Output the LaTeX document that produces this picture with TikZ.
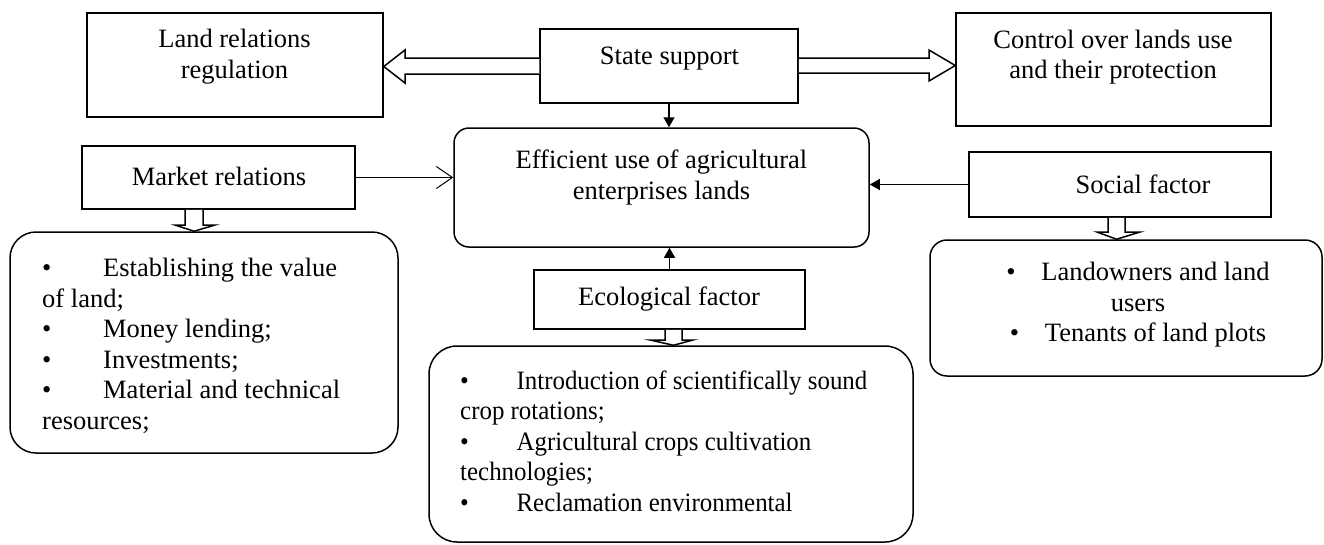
\documentclass[tikz,border=0pt]{standalone}
\usepackage{fontspec}
\setmainfont{Liberation Serif}
\usetikzlibrary{arrows.meta,calc}
\begin{document}
\begin{tikzpicture}[x=1pt,y=-1pt]
\tikzset{
 every node/.style={font=\fontsize{26.5pt}{30.5pt}\selectfont},
 box/.style={draw, line width=1.5pt, inner sep=0pt},
 txt/.style={inner sep=0pt, align=center},
 ltxt/.style={inner sep=0pt, align=left, anchor=west},
 link/.style={line width=1.3pt, -{Triangle[length=10pt,width=11pt]}},
 openlink/.style={line width=1pt, -{Straight Barb[length=16pt,width=22pt,line width=1pt]}},
 hollow/.style={draw, line width=1.5pt, fill=white, line join=miter},
}
\useasboundingbox (0,0) rectangle (1324,544);
% boxes
\node[box, minimum width=296pt, minimum height=104pt] (land) at (235,65) {};
\node[box, minimum width=258pt, minimum height=74pt] (state) at (669,66) {};
\node[box, minimum width=315pt, minimum height=113pt] (control) at (1113.5,69.5) {};
\node[box, rounded corners=15pt, minimum width=415pt, minimum height=119pt] (eff) at (661.5,187.5) {};
\node[box, minimum width=273pt, minimum height=63pt] (market) at (218.5,177.5) {};
\node[box, minimum width=302pt, minimum height=65pt] (social) at (1120,184.5) {};
\node[box, rounded corners=26pt, minimum width=388pt, minimum height=221pt] (mlist) at (204,342.5) {};
\node[box, minimum width=271pt, minimum height=59pt] (eco) at (669.5,299.5) {};
\node[box, rounded corners=28pt, minimum width=484pt, minimum height=196pt] (elist) at (671,444) {};
\node[box, rounded corners=17pt, minimum width=392pt, minimum height=136pt] (slist) at (1126,308) {};
% texts
\node[txt] (landt) at (234.5,56.5) {Land relations\\regulation};
\node[txt] (statet) at (669.5,59) {State support};
\node[txt] (controlt) at (1113,57) {Control over lands use\\and their protection};
\node[txt] (efft) at (661.5,177.5) {Efficient use of agricultural\\enterprises lands};
\node[txt] (markett) at (219,176) {Market relations};
\node[txt] (socialt) at (1143,184) {Social factor};
\node[txt] (ecot) at (669,299) {Ecological factor};
\node[ltxt] (mlistt) at (42,346) {\makebox[61pt][l]{•}Establishing the value\\of land;\\\makebox[61pt][l]{•}Money lending;\\\makebox[61pt][l]{•}Investments;\\\makebox[61pt][l]{•}Material and technical\\resources;};
\node[ltxt] (elistt) at (460,444) {\scalebox{0.94}[1]{\begin{tabular}{@{}l@{}}\makebox[60pt][l]{•}Introduction of scientifically sound\\crop rotations;\\\makebox[60pt][l]{•}Agricultural crops cultivation\\technologies;\\\makebox[60pt][l]{•}Reclamation environmental\end{tabular}}};
\node[txt] (slistt) at (1138,305) {\makebox[35pt][l]{•}Landowners and land\\users\\\makebox[35pt][l]{•}Tenants of land plots};
% simple connectors
\draw[link] (state.south) -- (state.south |- eff.north);
\draw[link] (eco.north) -- (eco.north |- eff.south);
\draw[link] (social.west) -- (social.west -| eff.east);
\draw[openlink] (market.east) -- (market.east -| eff.west);
% hollow arrows
\draw[hollow] (state.west |- 0,58) -- (405,58) -- (405,50) -- (land.east |- 0,66.5) -- (405,83) -- (405,74) -- (state.west |- 0,74);
\draw[hollow] (state.east |- 0,58) -- (929,58) -- (929,50) -- (control.west |- 0,65.5) -- (929,81) -- (929,73) -- (state.east |- 0,73);
\draw[hollow] (185,0 |- market.south) -- (185,225) -- (175,225) -- (194,0 |- mlist.north) -- (215,225) -- (203,225) -- (203,0 |- market.south);
\draw[hollow] (1108,0 |- social.south) -- (1108,232) -- (1097,232) -- (1116.5,0 |- slist.north) -- (1140,232) -- (1125,232) -- (1125,0 |- social.south);
\draw[hollow] (665,0 |- eco.south) -- (665,340) -- (650,340) -- (673.5,0 |- elist.north) -- (693,340) -- (682,340) -- (682,0 |- eco.south);
\end{tikzpicture}
\end{document}
